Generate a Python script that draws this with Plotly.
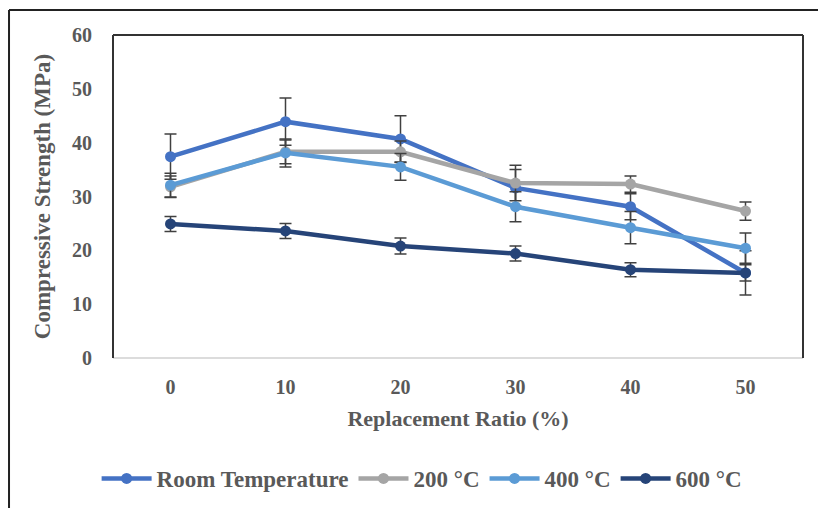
import plotly.graph_objects as go

ratios = ["0", "10", "20", "30", "40", "50"]
room = [37.4, 43.9, 40.7, 31.6, 28.1, 15.8]
room_err = [4.2, 4.4, 4.3, 3.4, 2.4, 4.1]
t200 = [31.8, 38.3, 38.3, 32.5, 32.3, 27.3]
t200_err = [2.0, 2.2, 2.0, 3.3, 1.5, 1.7]
t400 = [32.1, 38.1, 35.5, 28.1, 24.2, 20.4]
t400_err = [2.2, 2.6, 2.5, 2.8, 3.0, 2.8]
t600 = [24.9, 23.6, 20.8, 19.4, 16.4, 15.8]
t600_err = [1.4, 1.4, 1.5, 1.4, 1.3, 1.5]

names = ["Room Temperature", "200 \u00b0C", "400 \u00b0C", "600 \u00b0C"]
colors = ["#4472C4", "#A5A5A5", "#5B9BD5", "#264478"]
series = [room, t200, t400, t600]
errs = [room_err, t200_err, t400_err, t600_err]

font_fam = "Liberation Serif"
txt_col = "#595959"

fig = go.Figure()
for n, c, s, e in zip(names, colors, series, errs):
    fig.add_trace(go.Scatter(
        x=ratios, y=s, name=n, mode="lines+markers",
        line=dict(color=c, width=4.5),
        marker=dict(color=c, size=11),
        error_y=dict(type="data", array=e, visible=True, color="#404040",
                     thickness=1.5, width=6),
    ))

fig.update_layout(
    width=818, height=508,
    margin=dict(l=113, r=15, t=35, b=150, autoexpand=False),
    paper_bgcolor="white", plot_bgcolor="white",
    font=dict(family=font_fam, color=txt_col),
    showlegend=True,
    legend=dict(orientation="h", x=0.448, xanchor="center", y=-0.373, yanchor="middle",
                font=dict(family=font_fam, size=23, color=txt_col, weight="bold"),
                itemwidth=50),
    xaxis=dict(type="category", range=[-0.5, 5.5], showgrid=False, zeroline=False, showline=False,
               automargin=False, ticks="", ticklabelstandoff=15,
               tickfont=dict(family=font_fam, size=20, color=txt_col, weight="bold"),
               title=dict(text="Replacement Ratio (%)", standoff=13,
                          font=dict(family=font_fam, size=22, color=txt_col, weight="bold"))),
    yaxis=dict(range=[0, 60], dtick=10, showgrid=False, zeroline=False, showline=False,
               automargin=False, ticks="", ticklabelstandoff=20,
               tickfont=dict(family=font_fam, size=20, color=txt_col, weight="bold"),
               title=dict(text="Compressive Strength (MPa)", standoff=14,
                          font=dict(family=font_fam, size=23, color=txt_col, weight="bold"))),
)

# plot box borders
fig.add_shape(type="line", xref="paper", yref="paper", x0=0, x1=1, y0=0, y1=0,
              line=dict(color="#D0D0D0", width=1.5), layer="below")
for x0, y0, x1, y1 in [(0, 0, 0, 1), (0, 1, 1, 1), (1, 1, 1, 0)]:
    fig.add_shape(type="line", xref="paper", yref="paper", x0=x0, x1=x1, y0=y0, y1=y1,
                  line=dict(color="#333333", width=2), layer="below")
# outer frame
fig.add_shape(type="line", xref="paper", yref="paper", x0=-0.1507, x1=-0.1507, y0=-0.5, y1=1.0774,
              line=dict(color="#222222", width=2))
fig.add_shape(type="line", xref="paper", yref="paper", x0=-0.1507, x1=1.1, y0=1.0774, y1=1.0774,
              line=dict(color="#222222", width=2))

fig.write_html("out.html")
